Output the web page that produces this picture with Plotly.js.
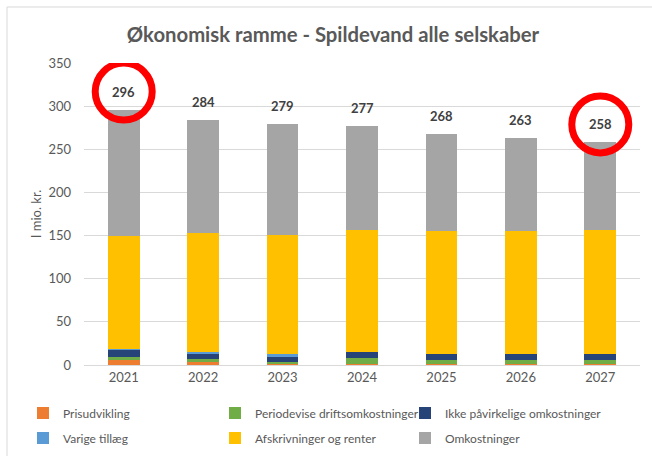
<!DOCTYPE html>
<html>
<head>
<meta charset="utf-8">
<script src="https://cdn.plot.ly/plotly-3.0.1.min.js"></script>
<style>html,body{margin:0;padding:0;background:#fff;}#chart{width:652px;height:456px;}</style>
</head>
<body>
<div id="chart"></div>
<script>
const years = ['2021', '2022', '2023', '2024', '2025', '2026', '2027'];
const seriesNames = ['Prisudvikling', 'Periodevise driftsomkostninger', 'Ikke påvirkelige omkostninger',
  'Varige tillæg', 'Afskrivninger og renter', 'Omkostninger'];
const prisudvikling = [5.5, 3.5, 1, 1, 1, 1, 1];
const periodevise = [4, 3, 3, 6.6, 4.3, 4.3, 4.3];
const ikkePaavirkelige = [8, 6.6, 5.4, 7, 7, 7, 7];
const varigeTillaeg = [1, 2.3, 3, 1, 1, 0.5, 0.5];
const afskrivninger = [131.5, 137.6, 138.6, 140.4, 141.7, 142.2, 143.2];
const omkostninger = [146, 131, 128, 121, 113, 108, 102];
const totals = [296, 284, 279, 277, 268, 263, 258];
const circled = ['2021', '2027'];

const FONT = 'Lato, "Open Sans", sans-serif';
const GREY = '#595959';
const W = 652, H = 456, ML = 84, MR = 0, MT = 63, MB = 91;
const PW = W - ML - MR, PH = H - MT - MB;
const py = p => (H - MB - p) / PH;      // pixel y -> paper y
const px = p => (p - ML) / PW;          // pixel x -> paper x

const colors = ['#ED7D31', '#70AD47', '#264478', '#5B9BD5', '#FFC000', '#A5A5A5'];
const values = [prisudvikling, periodevise, ikkePaavirkelige, varigeTillaeg, afskrivninger, omkostninger];
// legend grid: 3 columns x 2 rows
const legendX = [23, 215, 405, 23, 215, 405];
const legendY = [413, 413, 413, 438, 438, 438];

const data = seriesNames.map((name, k) => ({
  type: 'bar', name: name, x: years, y: values[k], width: 0.4,
  marker: {color: colors[k], line: {width: 0}},
  legend: k === 0 ? 'legend' : 'legend' + (k + 1), hoverinfo: 'skip'
}));

const annotations = years.map((yr, i) => ({
  x: i, y: totals[i], xref: 'x', yref: 'y', text: '<b>' + totals[i] + '</b>',
  showarrow: false, yshift: 18, yanchor: 'middle', xanchor: 'center',
  font: {family: FONT, size: 13, color: '#404040'}
}));

const shapes = circled.map(yr => {
  const i = years.indexOf(yr);
  return {type: 'circle', xref: 'x', yref: 'y', xsizemode: 'pixel', ysizemode: 'pixel',
    xanchor: i, yanchor: totals[i], x0: -28.5, x1: 28.5, y0: 18 - 28.5, y1: 18 + 28.5,
    line: {color: '#FF0000', width: 7}};
});
// outer chart frame
shapes.push({type: 'line', xref: 'paper', yref: 'paper', x0: px(7), x1: px(652),
  y0: py(7), y1: py(7), line: {color: '#D9D9D9', width: 1}});
shapes.push({type: 'line', xref: 'paper', yref: 'paper', x0: px(7), x1: px(7),
  y0: py(7), y1: py(456), line: {color: '#D9D9D9', width: 1}});

const layout = {
  width: W, height: H,
  margin: {l: ML, r: MR, t: MT, b: MB},
  paper_bgcolor: '#fff', plot_bgcolor: '#fff',
  barmode: 'stack',
  showlegend: true,
  title: {text: '<b>Økonomisk ramme - Spildevand alle selskaber</b>', x: 333 / W, xanchor: 'center', xref: 'container',
    y: 1 - 35 / H, yanchor: 'middle', yref: 'container',
    font: {family: FONT, size: 20.3, color: GREY}},
  xaxis: {domain: [0, px(640)], type: 'category', range: [-0.5, 6.5], showgrid: false, showline: true,
    linecolor: '#D9D9D9', linewidth: 1, ticks: '', tickfont: {family: FONT, size: 13, color: GREY}, fixedrange: true},
  yaxis: {range: [0, 350], dtick: 50, showgrid: true, gridcolor: '#D9D9D9', gridwidth: 1,
    zeroline: false, showline: false, ticks: '', ticklabelstandoff: 12,
    tickfont: {family: FONT, size: 13, color: GREY},
    title: {text: 'I mio. kr.', standoff: 3, font: {family: FONT, size: 13, color: GREY}}, fixedrange: true},
  annotations: annotations,
  shapes: shapes
};

seriesNames.forEach((name, k) => {
  layout[k === 0 ? 'legend' : 'legend' + (k + 1)] = {
    orientation: 'h', xanchor: 'left', yanchor: 'middle', x: px(legendX[k]), y: py(legendY[k]),
    font: {family: FONT, size: 12, color: GREY}, bgcolor: 'rgba(0,0,0,0)'
  };
});

Plotly.newPlot('chart', data, layout, {staticPlot: true, displayModeBar: false});
</script>
</body>
</html>
